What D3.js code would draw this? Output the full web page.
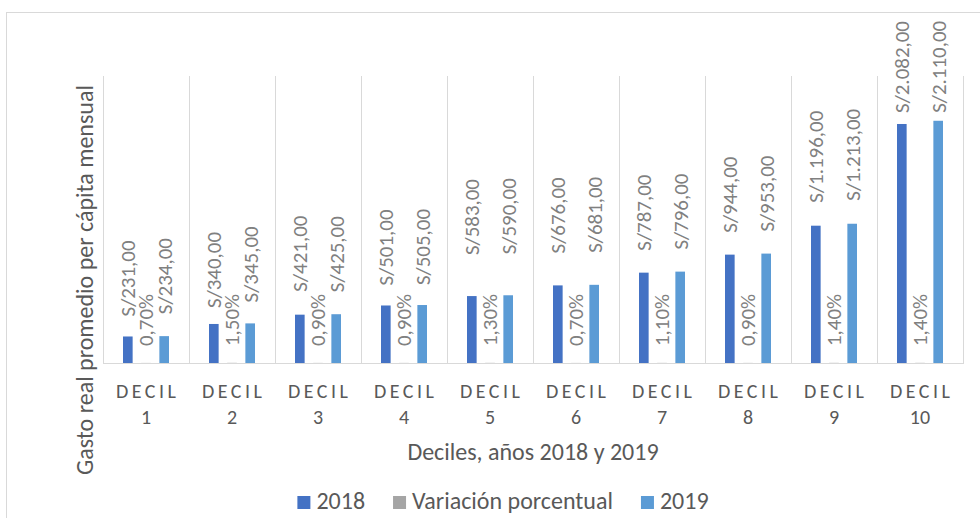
<!DOCTYPE html>
<html lang="es">
<head>
<meta charset="UTF-8">
<title>Gasto real promedio per cápita mensual por deciles</title>
<script src="https://cdnjs.cloudflare.com/ajax/libs/d3/7.8.5/d3.min.js"></script>
<style>
    body { margin: 0; background: #fff; }
    svg { display: block; font-family: Carlito, Calibri, Lato, sans-serif; }
    .grid line { stroke: #d9d9d9; stroke-width: 1; }
    .val-label { fill: #808080; }
    .cat-label { font-size: 20px; fill: #595959; letter-spacing: 3.5px; }
    .cat-num { font-size: 20px; fill: #595959; }
    .axis-title { font-size: 24px; fill: #595959; }
    .legend text { font-size: 24px; fill: #595959; }
</style>
</head>
<body>
<svg id="chart" width="980" height="518"></svg>
<script>
    // data
    const deciles = ["1", "2", "3", "4", "5", "6", "7", "8", "9", "10"];
    const gasto2018 = [231, 340, 421, 501, 583, 676, 787, 944, 1196, 2082];
    const gasto2019 = [234, 345, 425, 505, 590, 681, 796, 953, 1213, 2110];
    const variacion = [0.7, 1.5, 0.9, 0.9, 1.3, 0.7, 1.1, 0.9, 1.4, 1.4];
    const seriesNames = ["2018", "Variación porcentual", "2019"];
    const seriesColors = ["#4472c4", "#a5a5a5", "#5b9bd5"];

    // labels were nudged by hand in the original, keep the gaps (px above bar)
    const gap2018 = [20, 16, 23, 20, 41, 32, 22, 22, 23, 11];
    const gap2019 = [22, 21, 22, 20, 41, 32, 22, 22, 23, 8];

    const svg = d3.select("#chart");
    const plot = { left: 103, right: 963, top: 76, bottom: 363 };

    const loc = d3.formatLocale({ decimal: ",", thousands: ".", grouping: [3], currency: ["S/", ""] });
    const fmtMoney = loc.format("$,.2f");
    const fmtPct = loc.format(",.2f");

    // size the value labels so "S/2.082,00" is ~92px long, like the original
    const probe = svg.append("text").attr("font-size", 20).text(fmtMoney(2082));
    const valSize = 20 * 92 / probe.node().getComputedTextLength();
    probe.remove();

    // chart frame
    svg.append("rect")
        .attr("x", 6.5).attr("y", 12.5)
        .attr("width", 1000).attr("height", 600)
        .attr("fill", "none").attr("stroke", "#d9d9d9");

    const x = d3.scaleBand().domain(deciles).range([plot.left, plot.right]);
    const x1 = d3.scaleBand().domain(seriesNames).range([20, 66]).paddingInner(0.47);
    const y = d3.scaleLinear().domain([0, 2500]).range([plot.bottom, plot.top]);

    // vertical gridlines at category edges
    const grid = svg.append("g").attr("class", "grid");
    const edges = deciles.map(d => x(d)).concat([plot.right]);
    grid.selectAll("line.v").data(edges).join("line")
        .attr("class", "v")
        .attr("x1", d => d + 0.5).attr("x2", d => d + 0.5)
        .attr("y1", plot.top).attr("y2", plot.bottom);
    grid.append("line")
        .attr("x1", plot.left).attr("x2", plot.right + 1)
        .attr("y1", plot.bottom + 0.5).attr("y2", plot.bottom + 0.5)
        .attr("stroke", "#d0d0d0");

    const rows = deciles.map((d, i) => ({
        decil: d,
        values: [gasto2018[i], variacion[i], gasto2019[i]]
    }));

    // bars
    const groups = svg.append("g").selectAll("g").data(rows).join("g")
        .attr("transform", d => `translate(${x(d.decil)},0)`);
    groups.selectAll("rect")
        .data(d => d.values.map((v, k) => ({ key: seriesNames[k], v: v, k: k })))
        .join("rect")
        .attr("x", d => x1(d.key))
        .attr("width", x1.bandwidth())
        .attr("y", d => y(d.v))
        .attr("height", d => y(0) - y(d.v))
        .attr("fill", d => seriesColors[d.k]);

    // value labels, rotated
    const labels = svg.append("g").attr("font-size", valSize);
    rows.forEach((r, i) => {
        const base = x(r.decil);
        const cx18 = base + x1("2018") + x1.bandwidth() / 2;
        const cxV = base + x1("Variación porcentual") + x1.bandwidth() / 2;
        const cx19 = base + x1("2019") + x1.bandwidth() / 2;
        labels.append("text").attr("class", "val-label")
            .attr("transform", `translate(${cx18},${y(gasto2018[i]) - gap2018[i]}) rotate(-90)`)
            .attr("dy", "0.35em")
            .text(fmtMoney(gasto2018[i]));
        labels.append("text").attr("class", "val-label")
            .attr("transform", `translate(${cxV},${plot.bottom - 17}) rotate(-90)`)
            .attr("dy", "0.35em")
            .text(fmtPct(variacion[i]) + "%");
        labels.append("text").attr("class", "val-label")
            .attr("transform", `translate(${cx19},${y(gasto2019[i]) - gap2019[i]}) rotate(-90)`)
            .attr("dy", "0.35em")
            .text(fmtMoney(gasto2019[i]));
    });

    // category labels
    const cats = svg.append("g");
    deciles.forEach(d => {
        const cx = x(d) + x.bandwidth() / 2;
        cats.append("text").attr("class", "cat-label")
            .attr("x", cx + 1.75).attr("y", 398)
            .attr("text-anchor", "middle").text("DECIL");
        cats.append("text").attr("class", "cat-num")
            .attr("x", cx).attr("y", 424)
            .attr("text-anchor", "middle").text(d);
    });

    // axis titles
    svg.append("text").attr("class", "axis-title")
        .attr("x", (plot.left + plot.right) / 2).attr("y", 460)
        .attr("text-anchor", "middle")
        .text("Deciles, años 2018 y 2019");
    svg.append("text").attr("class", "axis-title")
        .attr("transform", "translate(93,280) rotate(-90)")
        .attr("text-anchor", "middle")
        .text("Gasto real promedio per cápita mensual");

    // legend
    const legend = svg.append("g").attr("class", "legend");
    let lx = 0;
    seriesNames.forEach((name, k) => {
        const g = legend.append("g");
        g.append("rect").attr("width", 13).attr("height", 13).attr("y", -13)
            .attr("fill", seriesColors[k]);
        const t = g.append("text").attr("x", 19).attr("y", 0).text(name);
        const w = 19 + t.node().getComputedTextLength();
        g.attr("transform", `translate(${lx},0)`);
        lx += w + 28;
    });
    const total = lx - 28;
    legend.attr("transform", `translate(${503 - total / 2},509)`);
</script>
</body>
</html>
